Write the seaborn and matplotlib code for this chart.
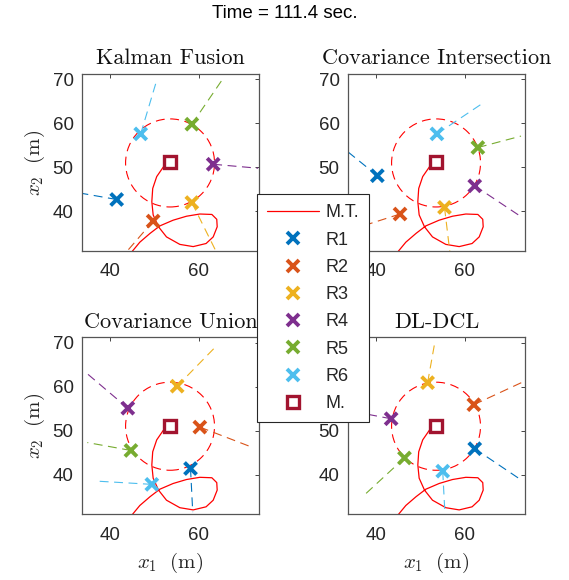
import matplotlib
matplotlib.use('Agg')
import matplotlib.pyplot as plt
import seaborn as sns
from matplotlib.lines import Line2D
from matplotlib.patches import Circle

# target trajectory (same in every panel)
traj_x = [43.0, 44.9, 46.7, 49.0, 51.2, 54.2, 57.2, 60.2, 62.9, 64.0, 64.1, 63.2, 61.6,
          58.7, 55.7, 52.7, 50.9, 49.7, 49.4, 49.6, 50.5, 52.0, 53.5]
traj_y = [28.5, 30.8, 33.0, 35.0, 36.7, 38.0, 38.9, 39.4, 39.3, 38.2, 36.5, 34.2, 32.7,
          32.0, 32.5, 34.2, 36.5, 39.2, 42.2, 45.2, 47.9, 50.1, 51.2]
target_x = [53.5]
target_y = [51.1]
circle_center = (53.5, 51.0)
circle_radius = 10.0

robots = ['R1', 'R2', 'R3', 'R4', 'R5', 'R6']

kf_x = [41.5, 49.7, 58.4, 63.2, 58.4, 46.9]
kf_y = [42.7, 37.8, 42.0, 50.7, 59.8, 57.6]
kf_end_x = [33.6, 43.7, 63.8, 73.3, 65.1, 50.3]
kf_end_y = [44.1, 30.8, 31.0, 49.8, 69.7, 69.1]

ci_x = [40.3, 45.4, 55.4, 62.2, 62.9, 53.7]
ci_y = [48.1, 39.4, 40.9, 45.8, 54.5, 57.6]
ci_end_x = [33.7, 35.5, 56.6, 72.6, 72.6, 63.9]
ci_end_y = [53.5, 36.2, 30.8, 38.8, 57.1, 64.5]

cu_x = [58.1, 60.2, 55.1, 44.0, 44.7, 49.4]
cu_y = [41.4, 50.8, 60.1, 55.1, 45.5, 37.8]
cu_end_x = [58.6, 71.5, 63.6, 34.8, 34.9, 37.6]
cu_end_y = [31.5, 46.4, 68.9, 63.0, 47.3, 38.5]

dl_x = [62.2, 62.0, 51.6, 43.4, 46.4, 55.0]
dl_y = [45.9, 55.9, 60.9, 52.7, 43.8, 40.8]
dl_end_x = [72.2, 72.9, 53.3, 34.0, 37.5, 55.5]
dl_end_y = [39.1, 61.0, 70.5, 54.5, 35.5, 31.1]

titles = ['Kalman Fusion', 'Covariance Intersection', 'Covariance Union', 'DL-DCL']

colors = ['#0072BD', '#D95319', '#EDB120', '#7E2F8E', '#77AC30', '#4DBEEE']
target_color = '#A2142F'

sns.set_theme(style='white')
plt.rcParams['font.family'] = ['Liberation Sans', 'DejaVu Sans']
plt.rcParams['mathtext.fontset'] = 'cm'

fig = plt.figure(figsize=(5.69, 5.80), dpi=100)

W, H = 569, 580
boxes = [(82, 74), (348, 74), (82, 337.3), (348, 337.3)]
aw, ah = 177, 177

panel_data = [
    (kf_x, kf_y, kf_end_x, kf_end_y),
    (ci_x, ci_y, ci_end_x, ci_end_y),
    (cu_x, cu_y, cu_end_x, cu_end_y),
    (dl_x, dl_y, dl_end_x, dl_end_y),
]

for k, (rx, ry, ex, ey) in enumerate(panel_data):
    left, top = boxes[k]
    ax = fig.add_axes([left / W, 1 - (top + ah) / H, aw / W, ah / H])

    sns.lineplot(x=traj_x, y=traj_y, sort=False, estimator=None, color='red',
                 lw=0.9, ax=ax, zorder=2)
    ax.add_patch(Circle(circle_center, circle_radius, fill=False, ec='red',
                        lw=0.8, ls=(0, (8, 5)), zorder=2))
    for i in range(len(robots)):
        ax.plot([rx[i], ex[i]], [ry[i], ey[i]], color=colors[i], lw=0.8,
                ls=(0, (8, 5)), zorder=2)
    sns.scatterplot(x=rx, y=ry, hue=robots, palette=colors, marker='x', s=75,
                    linewidth=2.8, legend=False, ax=ax, zorder=4)
    ax.plot(target_x, target_y, marker='s', ms=8.5, mfc='white',
            mec=target_color, mew=2.4, ls='none', zorder=5)

    ax.set_xlim(33.7, 73.5)
    ax.set_ylim(31.0, 71.2)
    ax.set_xticks([40, 60])
    ax.set_yticks([40, 50, 60, 70])
    ax.tick_params(direction='in', top=True, right=True, length=3, width=0.6,
                   colors='#262626', labelsize=13.5)
    ax.tick_params(axis='x', pad=9)
    ax.tick_params(axis='y', pad=6)
    for sp in ax.spines.values():
        sp.set_color('#555555')
        sp.set_linewidth(0.9)
    ax.set_title(titles[k], family='cmr10', fontsize=16, pad=7, color='#111111')
    if k % 2 == 0:
        ax.set_ylabel(r'$x_2\ \ (\mathrm{m})$', fontsize=15, color='#262626')
    else:
        ax.set_ylabel('')
    if k >= 2:
        ax.set_xlabel(r'$x_1\ \ (\mathrm{m})$', fontsize=15, color='#262626',
                      labelpad=5)
    else:
        ax.set_xlabel('')

handles = [Line2D([], [], color='red', lw=0.9)]
for c in colors:
    handles.append(Line2D([], [], color=c, marker='x', ls='none', ms=8, mew=2.8))
handles.append(Line2D([], [], color=target_color, marker='s', ls='none', ms=8.5,
                      mfc='white', mew=2.4))
labels = ['M.T.'] + robots + ['M.']

leg = fig.legend(handles, labels, loc='center', bbox_to_anchor=(0.5495, 0.4684),
                 fontsize=13, frameon=True, fancybox=False, framealpha=1,
                 edgecolor='#262626', handlelength=2.9, handletextpad=0.35,
                 labelspacing=0.57, borderpad=0.55, borderaxespad=0)
leg.get_frame().set_linewidth(0.8)

fig.text(0.5, 1 - 14 / H, 'Time = 111.4 sec.', ha='center', va='center',
         fontsize=13.5, color='black')

fig.savefig('out.png', dpi=100)
